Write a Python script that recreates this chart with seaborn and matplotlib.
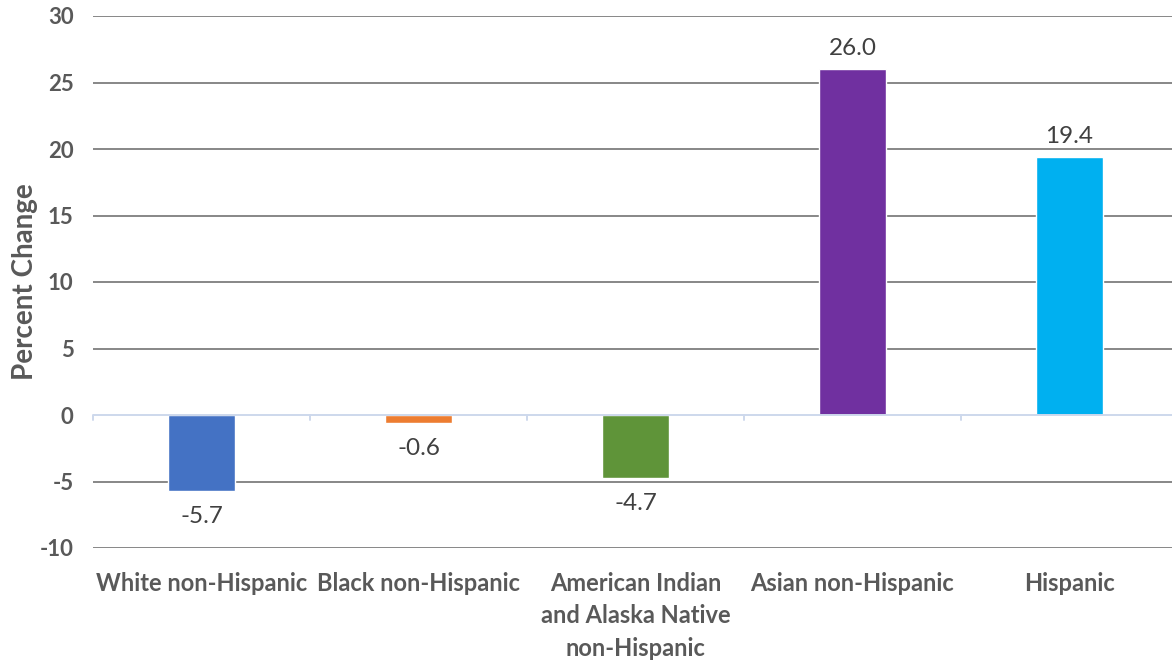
import pandas as pd
import matplotlib.pyplot as plt
import seaborn as sns

# values
groups = ['White non-Hispanic', 'Black non-Hispanic',
          'American Indian\nand Alaska Native\nnon-Hispanic',
          'Asian non-Hispanic', 'Hispanic']
pct_change = [-5.7, -0.6, -4.7, 26.0, 19.4]
bar_colors = ['#4472C4', '#ED7D31', '#5F9439', '#7030A0', '#00B0F0']
y_ticks = [-10, -5, 0, 5, 10, 15, 20, 25, 30]

sns.set_theme(style='white')
plt.rcParams['font.family'] = ['Lato', 'DejaVu Sans']

df = pd.DataFrame({'group': groups, 'pct': pct_change})

fig = plt.figure(figsize=(11.72, 6.62), dpi=100)
ax = fig.add_axes([93 / 1172, 1 - 548 / 662, 1085 / 1172, 532 / 662])

sns.barplot(data=df, x='group', y='pct', hue='group', palette=bar_colors,
            width=0.31, legend=False, saturation=1, ax=ax, zorder=3)

# gridlines (except at zero, which gets the light axis line)
for t in y_ticks:
    if t != 0:
        ax.axhline(t, color='#878787', lw=1.4, zorder=1)
ax.axhline(0, color='#cdd8ec', lw=1.4, zorder=4)
for b in [-0.5, 0.5, 1.5, 2.5, 3.5, 4.5]:
    ax.plot([b, b], [0, -0.35], color='#cdd8ec', lw=1.4, zorder=4, clip_on=False)

ax.set_ylim(-10, 30)
ax.set_xlim(-0.5, 4.5)
ax.set_yticks(y_ticks)
ax.set_yticklabels([str(t) for t in y_ticks], fontsize=16, fontweight='bold', color='#595959')
ax.set_xticks(range(len(groups)))
ax.set_xticklabels(groups, fontsize=17, fontweight='bold', color='#595959',
                   linespacing=1.5)
ax.tick_params(axis='both', length=0)
ax.tick_params(axis='y', pad=14)
ax.tick_params(axis='x', pad=17)
ax.set_xlabel('')
ax.set_ylabel('Percent Change', fontsize=20, fontweight='bold', color='#595959', labelpad=1)
sns.despine(ax=ax, left=True, bottom=True)

for cont in ax.containers:
    val = cont.datavalues[0]
    ax.bar_label(cont, fmt='%.1f', padding=7 if val > 0 else 11,
                 fontsize=17.5, color='#404040')

fig.savefig('out.png', dpi=100)
